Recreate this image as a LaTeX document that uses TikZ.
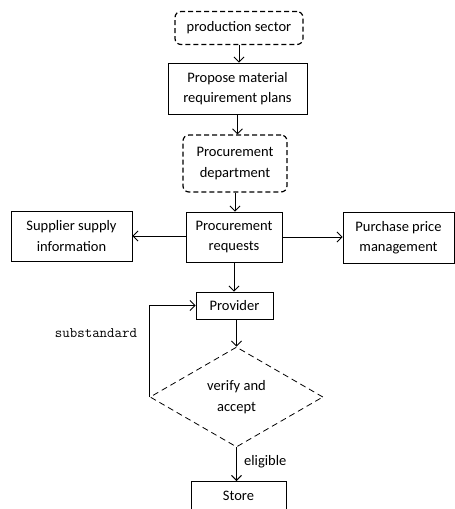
\documentclass[tikz,border=0pt]{standalone}
\usepackage{fontspec}
\setmainfont{Carlito}
\usetikzlibrary{arrows.meta,shapes.geometric}
\begin{document}
\begin{tikzpicture}[x=1pt,y=-1pt,
  every node/.style={font=\fontsize{14.5}{20.5}\selectfont, align=center, inner sep=0pt},
  box/.style={draw, line width=0.9pt},
  dbox/.style={draw, line width=1.2pt, rounded corners=6pt, dash pattern=on 5pt off 3pt},
  ddia/.style={draw, diamond, aspect=1.73, line width=0.8pt, dash pattern=on 6pt off 4pt},
  flow/.style={line width=0.9pt, -{Straight Barb[length=5pt,width=10pt,line width=0.9pt]}},
  lbl/.style={font=\fontsize{14.5}{16}\selectfont}
]
\useasboundingbox (0,0) rectangle (455,509);
\clip (0,0) rectangle (455,509);

\node[dbox, minimum width=128pt, minimum height=33pt] (prod) at (239,28) {production sector};
\node[box, minimum width=139pt, minimum height=51pt] (prop) at (237.5,88.5) {Propose material\\requirement plans};
\node[dbox, minimum width=104pt, minimum height=57pt] (dept) at (235,163.5) {Procurement\\department};
\node[box, minimum width=96pt, minimum height=50pt] (req) at (234,237) {Procurement\\requests};
\node[box, minimum width=121pt, minimum height=50pt] (sup) at (71.5,236) {Supplier supply\\information};
\node[box, minimum width=111pt, minimum height=51pt] (pur) at (398.5,237.5) {Purchase price\\management};
\node[box, minimum width=77pt, minimum height=27pt] (prov) at (234.5,305.5) {Provider};
\node[ddia, minimum width=173pt, minimum height=100pt] (ver) at (236.5,397) {verify and\\accept};
\node[box, minimum width=95pt, minimum height=42pt, anchor=north] (store) at (238.5,481) {};
\node (storetxt) at (238.5,496) {Store};

\draw[flow] (prod.south) -- (prod.south |- prop.north);
\draw[flow] (prop.south) -- (prop.south |- dept.north);
\draw[flow] (dept.south) -- (dept.south |- req.north);
\draw[flow] (req.west |- sup.east) -- (sup.east);
\draw[flow] (req.east) -- (req.east -| pur.west);
\draw[flow] (req.south) -- (req.south |- prov.north);
\draw[flow] (prov.south -| ver.north) -- (ver.north);
\draw[flow] (ver.south) -- (ver.south |- store.north);
\draw[flow] (ver.west) -- (ver.west |- prov.west) -- (prov.west);

\node[lbl, anchor=west] (elig) at (244,462) {eligible};
\node[font=\ttfamily\fontsize{14.5}{16}\selectfont] (subst) at (96,333) {substandard};
\end{tikzpicture}
\end{document}
